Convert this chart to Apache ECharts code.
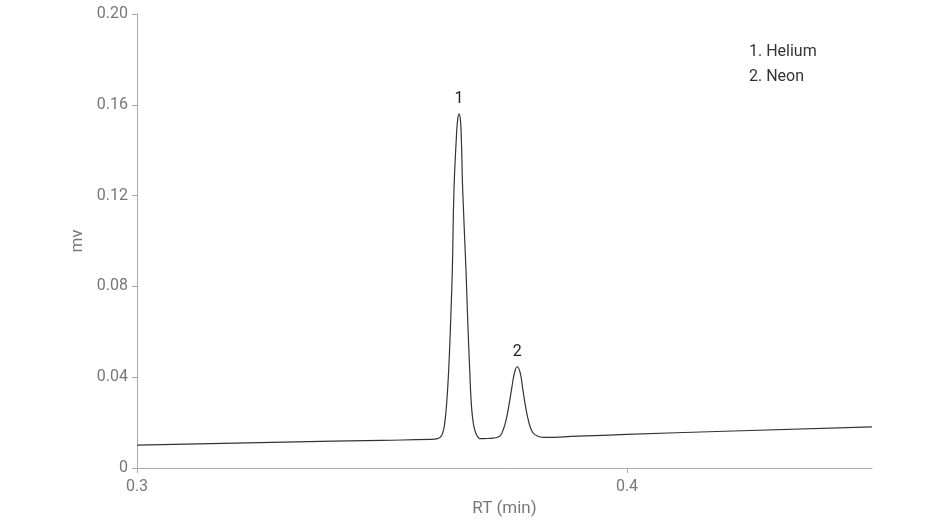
<!DOCTYPE html>
<html>
<head>
<meta charset="utf-8">
<script src="https://cdn.jsdelivr.net/npm/echarts@6/dist/echarts.min.js"></script>
<style>
  html, body { margin: 0; padding: 0; background: #fff; }
  #chart { width: 946px; height: 530px; }
</style>
</head>
<body>
<div id="chart"></div>
<script>
// retention time (min) and signal (mv)
const rt = [
  0.300, 0.330, 0.350, 0.3600, 0.36116, 0.36190, 0.36239, 0.36280, 0.36320, 0.36361,
  0.36402, 0.36435, 0.36469, 0.36515, 0.36543, 0.36571, 0.36600, 0.36620, 0.36647,
  0.36714, 0.36749, 0.36790, 0.36822, 0.36863, 0.36912, 0.36960, 0.37000, 0.37163,
  0.37271, 0.37400, 0.37455, 0.37524, 0.37592, 0.37647, 0.37708, 0.37761, 0.37816,
  0.37871, 0.37924, 0.37994, 0.38067, 0.38150, 0.38292, 0.390, 0.400, 0.420, 0.450
];
const signal = [
  0.0101, 0.0114, 0.0122, 0.0126, 0.0128, 0.0136, 0.0154, 0.0198, 0.0286, 0.0432,
  0.0652, 0.0872, 0.1225, 0.1445, 0.1533, 0.1560, 0.1533, 0.1445, 0.1225,
  0.0872, 0.0652, 0.0432, 0.0286, 0.0198, 0.0154, 0.0136, 0.0129, 0.0130,
  0.0132, 0.0140, 0.0158, 0.0204, 0.0278, 0.0351, 0.0423, 0.0446, 0.0423,
  0.0351, 0.0278, 0.0204, 0.0160, 0.0143, 0.0135, 0.0140, 0.0148, 0.0162, 0.0181
];
const peakNames = ['1. Helium', '2. Neon'];
const peakIndex = [15, 35];
const yTicks = [0, 0.04, 0.08, 0.12, 0.16, 0.20];
const xTicks = [0.3, 0.4];

const chart = echarts.init(document.getElementById('chart'));

const data = rt.map((x, i) => {
  const k = peakIndex.indexOf(i);
  if (k < 0) return [x, signal[i]];
  return {
    value: [x, signal[i]],
    label: {
      show: true,
      position: 'top',
      distance: 7,
      formatter: String(k + 1),
      color: '#222',
      fontSize: 16,
      fontFamily: 'Roboto'
    }
  };
});

const option = {
  animation: false,
  textStyle: { fontFamily: 'Roboto' },
  title: {
    text: peakNames.join('\n'),
    left: 744,
    top: 34,
    textStyle: {
      fontSize: 16,
      fontWeight: 'normal',
      color: '#333',
      lineHeight: 25,
      fontFamily: 'Roboto'
    }
  },
  grid: { left: 137, right: 74, top: 14, bottom: 62, containLabel: false },
  xAxis: {
    type: 'value',
    min: 0.3,
    max: 0.45,
    interval: 0.1,
    name: 'RT (min)',
    nameLocation: 'middle',
    nameGap: 31,
    nameTextStyle: { color: '#777', fontSize: 17 },
    splitLine: { show: false },
    axisLine: { lineStyle: { color: '#aaa' } },
    axisTick: { customValues: xTicks, length: 5, lineStyle: { color: '#aaa' } },
    axisLabel: {
      customValues: xTicks,
      color: '#777',
      fontSize: 16,
      margin: 11,
      formatter: v => v.toFixed(1)
    }
  },
  yAxis: {
    type: 'value',
    min: 0,
    max: 0.2,
    interval: 0.04,
    name: 'mv',
    nameLocation: 'middle',
    nameGap: 46,
    nameTextStyle: { color: '#777', fontSize: 17 },
    splitLine: { show: false },
    axisLine: { show: true, lineStyle: { color: '#aaa' } },
    axisTick: { show: true, customValues: yTicks, length: 5, lineStyle: { color: '#aaa' } },
    axisLabel: {
      customValues: yTicks,
      color: '#777',
      fontSize: 16,
      margin: 9,
      formatter: v => (v === 0 ? '0' : v.toFixed(2))
    }
  },
  series: [
    {
      type: 'line',
      data: data,
      smooth: 0.5,
      showSymbol: true,
      showAllSymbol: true,
      symbol: 'circle',
      symbolSize: 0,
      lineStyle: { color: '#333', width: 1.2 }
    }
  ]
};

chart.setOption(option);
</script>
</body>
</html>
